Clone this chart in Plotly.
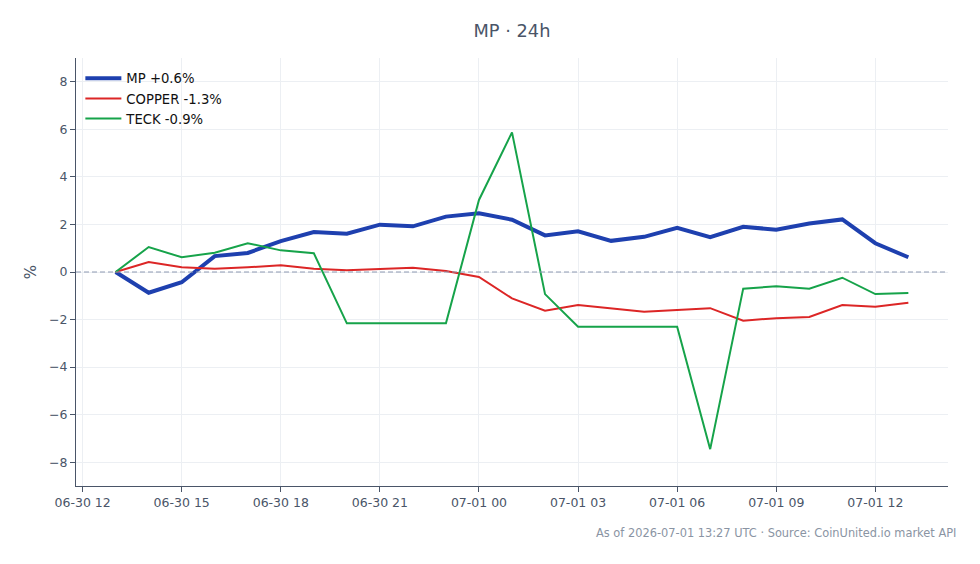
import plotly.graph_objects as go
import pandas as pd

times = pd.date_range("2026-06-30 13:00", "2026-07-01 13:00", freq="h")

mp = [0.0, -0.87, -0.43, 0.67, 0.8, 1.3, 1.68, 1.61, 1.99, 1.92, 2.33, 2.47, 2.2,
      1.54, 1.71, 1.31, 1.48, 1.86, 1.46, 1.9, 1.78, 2.04, 2.21, 1.21, 0.62]
copper = [0.0, 0.42, 0.2, 0.14, 0.2, 0.28, 0.14, 0.07, 0.13, 0.18, 0.04, -0.21, -1.11,
          -1.63, -1.39, -1.53, -1.67, -1.6, -1.52, -2.05, -1.94, -1.89, -1.39, -1.46, -1.29]
teck = [0.0, 1.05, 0.62, 0.81, 1.21, 0.91, 0.79, -2.16, -2.16, -2.16, -2.16, 3.03, 5.87,
        -0.93, -2.3, -2.3, -2.3, -2.3, -7.45, -0.7, -0.6, -0.7, -0.24, -0.93, -0.88]

names = ["MP +0.6%", "COPPER -1.3%", "TECK -0.9%"]
colors = ["#1e40af", "#dc2626", "#16a34a"]
widths = [4, 2, 2]
series = [mp, copper, teck]

fig = go.Figure()
for n, s, c, w in zip(names, series, colors, widths):
    fig.add_trace(go.Scatter(x=times, y=s, mode="lines", name=n,
                             line=dict(color=c, width=w)))

fig.add_hline(y=0, line=dict(color="#8e9ab2", width=1, dash="5px,3px"))

fig.update_layout(
    width=980, height=564,
    margin=dict(l=76, r=32, t=58, b=78),
    paper_bgcolor="white", plot_bgcolor="white",
    font=dict(family="DejaVu Sans", size=12.5, color="#4a5568"),
    title=dict(text="MP · 24h", x=0.5, xref="paper", xanchor="center",
               y=1 - 31 / 564, yanchor="middle",
               font=dict(size=17.8, color="#4a5568")),
    legend=dict(x=0.005, y=0.988, xanchor="left", yanchor="top",
                bgcolor="rgba(255,255,255,0)", font=dict(size=13.2, color="#111111"),
                tracegroupgap=0, itemwidth=36),
    showlegend=True,
)
fig.update_xaxes(
    range=["2026-06-30 11:48", "2026-07-01 14:12"],
    tick0="2026-06-30 12:00", dtick=3 * 3600 * 1000, tickformat="%m-%d %H",
    showline=True, linecolor="#4a5568", linewidth=1, ticks="outside", ticklen=5,
    tickcolor="#4a5568", showgrid=True, gridcolor="#eceff3", zeroline=False,
)
fig.update_yaxes(
    range=[-9, 9], dtick=2, title=dict(text="%", standoff=8),
    showline=True, linecolor="#4a5568", linewidth=1, ticks="outside", ticklen=5,
    tickcolor="#4a5568", showgrid=True, gridcolor="#eceff3", zeroline=False,
)
fig.add_annotation(
    text="As of 2026-07-01 13:27 UTC · Source: CoinUnited.io market API",
    xref="paper", yref="paper", x=1.012, y=-0.11, xanchor="right", yanchor="middle",
    showarrow=False, font=dict(size=11.4, color="#8a94a3"),
)
fig.write_html("out.html")
